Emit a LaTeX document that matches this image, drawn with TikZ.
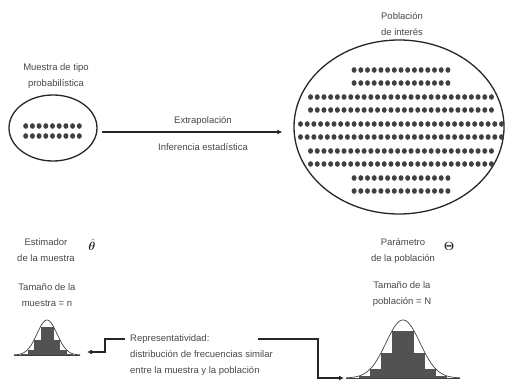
\documentclass[tikz,border=0pt]{standalone}
\usepackage{fontspec}
\usepackage{bm}
\setmainfont{Liberation Sans}
\usetikzlibrary{shapes.geometric,arrows.meta}
\begin{document}
\begin{tikzpicture}[x=1pt,y=-1pt,
  lbl/.style={text=black!72,font=\fontsize{9.5}{16}\selectfont,align=center,inner sep=0pt},
  lbll/.style={lbl,align=left,anchor=west},
  oval/.style={ellipse,draw=black!85,line width=1.3pt,inner sep=0pt},
  conn/.style={draw=black!85,line width=1.3pt,-{Latex[length=5pt,width=5pt]}},
  dot/.style={fill=black!75},
  bars/.style={fill=black!68},
  bell/.style={draw=black!75,line width=0.7pt}]
\useasboundingbox (0,0) rectangle (505,385);

% sample and population
\node[oval,minimum width=88pt,minimum height=66pt] (sample) at (53,128) {};
\node[oval,minimum width=210pt,minimum height=174pt] (pop) at (399,127) {};

\node[lbl] (sampletitle) at (56,76) {Muestra de tipo\\probabilística};
\node[lbl] (poptitle) at (402,24) {Población\\de interés};

% individuals in the sample
\foreach \yy in {126,136}
  \foreach \k in {0,...,8}
    \fill[dot] ({25.7+\k*6.7},\yy) ellipse (2.5pt and 2.8pt);

% individuals in the population: row, number of dots
\foreach \yy/\n in {70/15,83/15,97/28,110/28,124/31,137/31,151/28,164/28,178/15,191/15}
  \foreach \k in {1,...,\n}
    \fill[dot] ({401+(\k-(\n+1)/2)*6.7},\yy) ellipse (2.5pt and 2.8pt);

% inference arrow
\draw[conn] ([xshift=4pt,yshift=-4pt]sample.east) -- ([xshift=-11pt,yshift=-5pt]pop.west);
\node[lbl] (extra) at (203,121) {Extrapolación};
\node[lbl] (infer) at (203,147) {Inferencia estadística};

% estimator and parameter labels
\node[lbl] (est) at (46,250) {Estimador\\de la muestra};
\node[inner sep=0pt,text=black!85,font=\large] (thetahat) at (92,245) {$\hat{\bm{\theta}}$};
\node[lbl] (nsize) at (47,295) {Tamaño de la\\muestra = n};

\node[lbl] (param) at (403,251) {Parámetro\\de la población};
\node[inner sep=0pt,text=black!85,font=\large] (Theta) at (449,246) {$\bm{\Theta}$};
\node[lbl] (Nsize) at (402,294) {Tamaño de la\\población = N};

% sample distribution
\foreach \i in {-5,...,4}{
  \pgfmathsetmacro\xa{47+\i*6.5}
  \pgfmathsetmacro\edge{ifthenelse(\i<0,\i*6.5,(\i+1)*6.5)}
  \pgfmathsetmacro\hh{35*exp(-(\edge/10)^2/2)}
  \fill[bars] (\xa,355) rectangle ({\xa+6.5},{355-\hh});
}
\draw[bell] plot[domain=14:80,samples=80] (\x,{355-35*exp(-((\x-47)/10)^2/2)});
\draw[black!75,line width=1pt] (14,355) -- (80,355);

% population distribution
\foreach \i in {-5,...,4}{
  \pgfmathsetmacro\xa{403+\i*11}
  \pgfmathsetmacro\edge{ifthenelse(\i<0,\i*11,(\i+1)*11)}
  \pgfmathsetmacro\hh{58*exp(-(\edge/17)^2/2)}
  \fill[bars] (\xa,378) rectangle ({\xa+11},{378-\hh});
}
\draw[bell] plot[domain=346:460,samples=100] (\x,{378-58*exp(-((\x-403)/17)^2/2)});
\draw[black!75,line width=1pt] (346,378) -- (460,378);

% representativeness note
\node[lbll] (repr) at (130,355) {Representatividad:\\distribución de frecuencias similar\\entre la muestra y la población};
\coordinate (rl) at (125,339);
\coordinate (rlend) at (87,352);
\coordinate (rr) at (258,339);
\coordinate (rrend) at (344,378);
\draw[conn,line width=1.1pt] (rl) -- (105,339) |- (rlend);
\draw[conn,line width=1.1pt] (rr) -- (318,339) |- (rrend);
\end{tikzpicture}
\end{document}
